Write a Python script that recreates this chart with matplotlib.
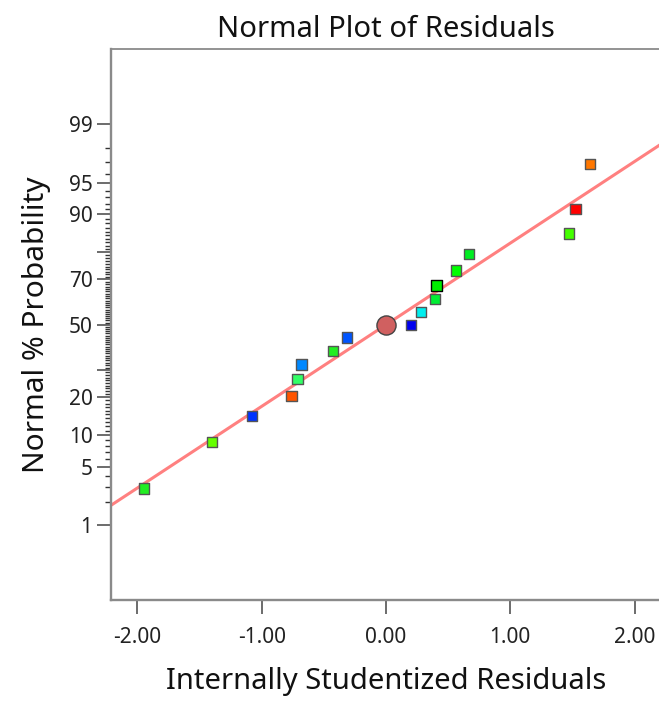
import numpy as np
import matplotlib
matplotlib.use('Agg')
import matplotlib.pyplot as plt
from matplotlib.ticker import FixedLocator, FixedFormatter
from statistics import NormalDist

nd = NormalDist()

# residuals (sorted) and their normal % probability
resid = [-1.947, -1.402, -1.077, -0.759, -0.711, -0.681, -0.425, -0.312,
         0.200, 0.281, 0.393, 0.407, 0.563, 0.666, 1.470, 1.524, 1.640]
prob = [2.9, 8.7, 14.5, 20.5, 26.4, 32.2, 38.1, 44.1,
        49.8, 55.9, 61.8, 67.6, 73.5, 79.4, 85.5, 91.0, 96.9]
colors = ['#22ee22', '#66ff00', '#0033ff', '#ff5500', '#33ff66', '#0088ff',
          '#22ee22', '#0055ff', '#0000ee', '#00eeee', '#00ee33', '#00ee00',
          '#00ff00', '#00ee22', '#44ff00', '#ff0000', '#ff7700']
edges = ['#555555'] * len(resid)
edges[11] = '#000000'

# highlighted point
pt_resid = 0.0
pt_prob = 50.0

# reference line (in normal-score units) z = a + b*x
line_a = 0.0
line_b = 0.946

ytick_vals = [1, 5, 10, 20, 30, 50, 70, 80, 90, 95, 99]
ytick_labels = ['1', '5', '10', '20', '', '50', '70', '', '90', '95', '99']
ytick_minor = [v for v in range(1, 100) if v not in ytick_vals]
xtick_vals = [-2, -1, 0, 1, 2]


def to_z(p):
    # percent -> normal score
    return np.array([nd.inv_cdf(v / 100.0) for v in np.atleast_1d(p)])


plt.rcParams['font.family'] = ['Noto Sans', 'DejaVu Sans']

fig = plt.figure(figsize=(6.59, 7.02), dpi=100)
ax = fig.add_axes([0.1677, 0.1453, 0.836, 0.7842])

xmin, xmax = -2.216, 2.216
ax.set_xlim(xmin, xmax)
ax.set_ylim(-3.19, 3.19)

xs = np.array([xmin, xmax])
ax.plot(xs, line_a + line_b * xs, color='#ff8080', lw=2.2, zorder=1)

ax.scatter(resid, to_z(prob), s=56, marker='s', c=colors, edgecolors=edges,
           linewidths=1.0, zorder=3)
ax.scatter([pt_resid], to_z([pt_prob]), s=190, marker='o', c='#d06060',
           edgecolors='#444444', linewidths=1.0, zorder=4)

ax.yaxis.remove_overlapping_locs = False
ax.yaxis.set_major_locator(FixedLocator(to_z(ytick_vals)))
ax.yaxis.set_major_formatter(FixedFormatter(ytick_labels))
ax.yaxis.set_minor_locator(FixedLocator(list(to_z(ytick_minor))))
ax.xaxis.set_major_locator(FixedLocator(xtick_vals))
ax.xaxis.set_major_formatter(FixedFormatter(['%.2f' % v for v in xtick_vals]))
ax.xaxis.set_minor_locator(FixedLocator([]))

ax.tick_params(axis='both', which='major', length=10, width=1.1, color='#444444',
               labelsize=15, labelcolor='#222222')
ax.tick_params(axis='x', which='major', pad=9.5)
ax.tick_params(axis='y', which='major', pad=3)
ax.tick_params(axis='y', which='minor', length=4.5, width=1.0, color='#333333')

for s in ['left', 'bottom']:
    ax.spines[s].set_color('#8a8a8a')
    ax.spines[s].set_linewidth(1.7)
ax.spines['top'].set_color('#8a8a8a')
ax.spines['top'].set_linewidth(1.3)
ax.spines['right'].set_visible(False)

ax.set_title('Normal Plot of Residuals', fontsize=21, color='#111111', pad=9.2)
ax.set_xlabel('Internally Studentized Residuals', fontsize=21, color='#111111')
ax.set_ylabel('Normal % Probability', fontsize=21.5, color='#111111')
ax.xaxis.set_label_coords(0.5, -0.121)
ax.yaxis.set_label_coords(-0.108, 0.5)

fig.savefig('out.png', dpi=100)
